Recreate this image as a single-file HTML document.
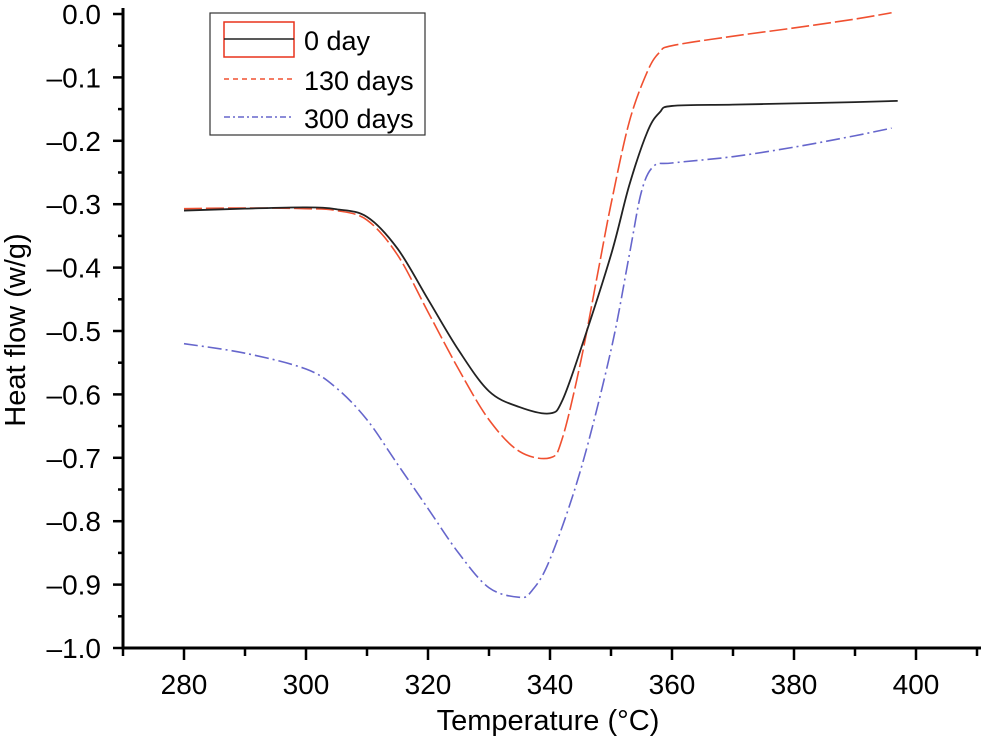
<!DOCTYPE html>
<html><head><meta charset="utf-8"><style>
html,body{margin:0;padding:0;background:#fff;}
svg{display:block;font-family:"Liberation Sans",Arial,sans-serif;}
</style></head><body>
<svg id="chart" width="981" height="743" viewBox="0 0 981 743">
<g id="axes"></g><g id="series"></g>
<g>
<rect x="210" y="13" width="215" height="122" fill="#fff" stroke="#333" stroke-width="1.2"/>
<rect x="224" y="22" width="70" height="35" fill="none" stroke="#e8321c" stroke-width="1.5"/>
<line x1="224" y1="39" x2="294" y2="39" stroke="#222" stroke-width="1.5"/>
<text x="304" y="50" font-size="27">0 day</text>
<line x1="224" y1="79" x2="294" y2="79" stroke="#f05030" stroke-width="1.5" stroke-dasharray="5,4"/>
<text x="304" y="90" font-size="27">130 days</text>
<line x1="224" y1="117" x2="294" y2="117" stroke="#6666cc" stroke-width="1.5" stroke-dasharray="6,3,2,3"/>
<text x="304" y="128" font-size="27">300 days</text>
</g>
</svg>
<script>
const xTicks=[280,300,320,340,360,380,400];
const yTicks=[0,-0.1,-0.2,-0.3,-0.4,-0.5,-0.6,-0.7,-0.8,-0.9,-1.0];
const temps0=[280,290,300,305,310,315,320,325,330,335,340,342,345,350,353,356,358,360,370,380,390,397];
const day0=[-0.31,-0.307,-0.305,-0.308,-0.32,-0.37,-0.45,-0.53,-0.595,-0.62,-0.63,-0.61,-0.53,-0.38,-0.27,-0.185,-0.155,-0.145,-0.143,-0.141,-0.139,-0.137];
const temps130=[280,290,300,305,310,315,320,325,330,335,340,342,345,348,350,353,356,358,360,370,380,390,396];
const day130=[-0.307,-0.306,-0.307,-0.31,-0.325,-0.38,-0.47,-0.56,-0.64,-0.69,-0.70,-0.67,-0.55,-0.40,-0.30,-0.17,-0.09,-0.06,-0.05,-0.035,-0.022,-0.008,0.002];
const temps300=[280,290,300,305,310,315,320,325,330,335,337,340,345,350,353,355,357,360,370,380,390,396];
const day300=[-0.52,-0.535,-0.56,-0.59,-0.64,-0.71,-0.78,-0.85,-0.905,-0.92,-0.91,-0.86,-0.72,-0.53,-0.38,-0.28,-0.24,-0.235,-0.225,-0.21,-0.192,-0.18];
const NS='http://www.w3.org/2000/svg';
const X=t=>123+(t-270)*6.1;
const Y=v=>14+(-v)*634;
function mk(tag,attrs,parent){const e=document.createElementNS(NS,tag);for(const k in attrs)e.setAttribute(k,attrs[k]);parent.appendChild(e);return e;}
const ax=document.getElementById('axes');
let l=mk('line',{x1:123,y1:8,x2:123,y2:649,stroke:'#000','stroke-width':3},ax);


l=mk('line',{x1:121.5,y1:648,x2:981,y2:648,stroke:'#000','stroke-width':3},ax);


for(let t=270;t<=410;t+=10){const maj=t%20==0;const tk=mk('line',{x1:X(t),y1:648,x2:X(t),y2:maj?660:656,stroke:'#000','stroke-width':2.5},ax);

}
xTicks.forEach(t=>{const tx=mk('text',{x:X(t),y:694,'font-size':28,'text-anchor':'middle'},ax);tx.textContent=String(t);

});
for(let i=0;i<=20;i++){const v=-i*0.05;const maj=i%2==0;const tk=mk('line',{x1:maj?113:118,y1:Y(v),x2:123,y2:Y(v),stroke:'#000','stroke-width':2.5},ax);

}
yTicks.forEach(v=>{const tx=mk('text',{x:101,y:Y(v)+10,'font-size':28,'text-anchor':'end'},ax);tx.textContent=(v==0?'0.0':'\u2013'+Math.abs(v).toFixed(1));

});
let tt=mk('text',{x:548,y:730,'font-size':29,'text-anchor':'middle'},ax);tt.textContent='Temperature (\u00B0C)';


tt=mk('text',{x:25,y:330,'font-size':29,'text-anchor':'middle',transform:'rotate(-90 25 330)'},ax);tt.textContent='Heat flow (w/g)';


function path(ts,vs){const p=ts.map((t,i)=>[X(t),Y(vs[i])]);let d='M'+p[0][0]+','+p[0][1];
for(let i=0;i<p.length-1;i++){const p0=p[Math.max(i-1,0)],p1=p[i],p2=p[i+1],p3=p[Math.min(i+2,p.length-1)];
const c1=[p1[0]+(p2[0]-p0[0])/6,p1[1]+(p2[1]-p0[1])/6],c2=[p2[0]-(p3[0]-p1[0])/6,p2[1]-(p3[1]-p1[1])/6];
d+=' C'+c1[0]+','+c1[1]+' '+c2[0]+','+c2[1]+' '+p2[0]+','+p2[1];}return d;}
const sg=document.getElementById('series');
let s=mk('path',{d:path(temps300,day300),fill:'none',stroke:'#6666cc','stroke-width':1.6,'stroke-dasharray':'14,4,2,4'},sg);


s=mk('path',{d:path(temps130,day130),fill:'none',stroke:'#f05030','stroke-width':1.6,'stroke-dasharray':'18,4'},sg);


s=mk('path',{d:path(temps0,day0),fill:'none',stroke:'#222','stroke-width':1.8},sg);


</script>
</body></html>
